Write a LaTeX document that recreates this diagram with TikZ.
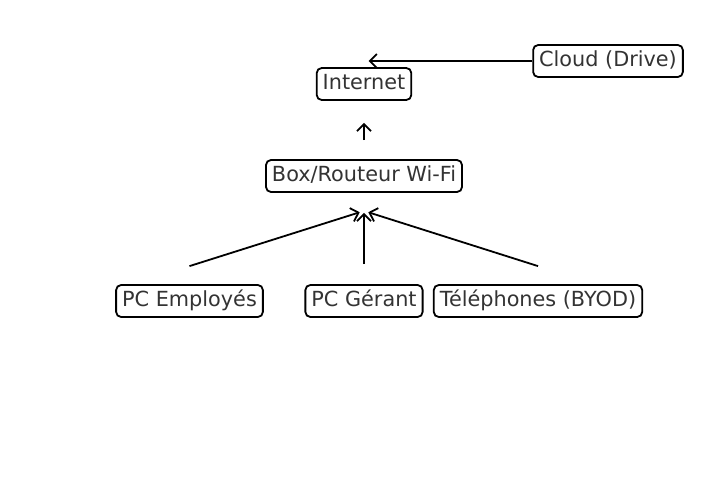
\documentclass[tikz,border=0pt]{standalone}
\usepackage{fontspec}
\setmainfont{DejaVu Sans}
\usepackage{xcolor}
\usepackage{tikz}
\usetikzlibrary{arrows.meta}
\definecolor{textgray}{HTML}{333333}
\tikzset{
    tnode/.style = {align=center, text centered, text=textgray, font=\fontsize{20.8}{24}\selectfont},
    box_node/.style = {tnode, rectangle, rounded corners=5pt, draw=black, line width=1.8pt,
                       inner xsep=6pt, inner ysep=6.5pt, text height=15pt, text depth=4pt},
    link/.style = {line width=1.8pt, -{Straight Barb[length=7pt, width=14pt, line width=1.8pt]}}
}

\begin{document}
\begin{tikzpicture}
            [x=1pt, y=-1pt]

            \useasboundingbox (0,0) rectangle (727,492);

            % nodes
            \node [box_node] (internet) at (364,84) {Internet};
            \node [box_node] (cloud)    at (608,61)   {Cloud (Drive)};
            \node [box_node] (router)   at (364,176) {Box/Routeur Wi-Fi};
            \node [box_node] (pc_emp)   at (189.5,301) {PC Employés};
            \node [box_node] (pc_ger)   at (364,301) {PC Gérant};
            \node [box_node] (phones)   at (538,301)   {Téléphones (BYOD)};

            % links
            \draw [link, shorten >=4.5pt] (cloud.west) -- (internet.center |- cloud.west);
            \draw [link, shorten <=19pt, shorten >=22pt] (router.north) -- (internet.south);
            \coordinate (hub) at ([yshift=-18pt]router.south);
            \draw [link, shorten >=4.5pt] ([yshift=18pt]pc_emp.north) -- (hub);
            \draw [link] ([yshift=20pt]pc_ger.north) -- ([yshift=-20pt]router.south);
            \draw [link, shorten >=4.5pt] ([yshift=18pt]phones.north) -- (hub);
        \end{tikzpicture}
\end{document}
